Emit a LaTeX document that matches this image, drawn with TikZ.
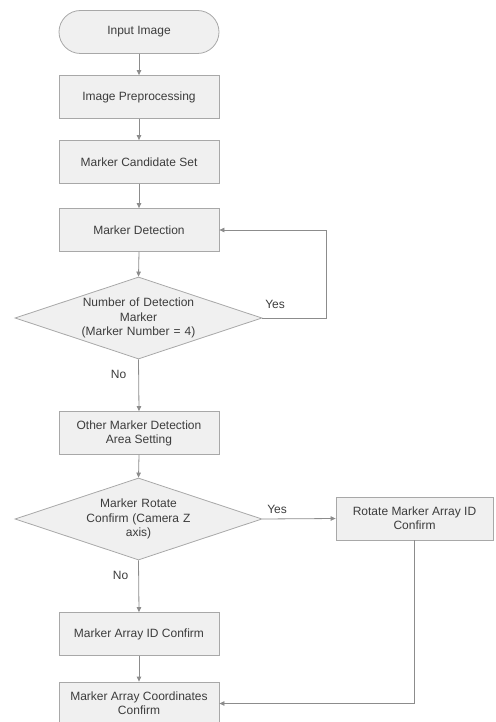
\documentclass[tikz,border=0pt]{standalone}
\usepackage{fontspec}
\setmainfont{Liberation Sans}
\usepackage{tikz}
\usetikzlibrary{arrows.meta}
\usetikzlibrary{shapes.geometric}
\definecolor{boxfill}{HTML}{F0F0F0}
\definecolor{boxline}{HTML}{A8A8A8}
\definecolor{flowline}{HTML}{8C8C8C}
\definecolor{boxtext}{HTML}{3C3C3C}
\tikzset{process/.style={rectangle,draw=boxline,fill=boxfill,line width=0.8pt,minimum width=160pt,minimum height=43pt,inner sep=2pt,align=center,text=boxtext,font=\fontsize{12}{14}\selectfont}}
\tikzset{terminal/.style={process,rounded corners=21.5pt}}
\tikzset{decision/.style={diamond,aspect=3,draw=boxline,fill=boxfill,line width=0.8pt,minimum width=247pt,minimum height=82pt,inner sep=0pt,text width=120pt,align=center,text=boxtext,font=\fontsize{12}{14.5}\selectfont}}
\tikzset{flow/.style={draw=flowline,line width=0.8pt,-{Triangle[length=5pt,width=4.5pt]}}}
\tikzset{lbl/.style={inner sep=2pt,text=boxtext,font=\fontsize{12}{14}\selectfont}}

\begin{document}
\begin{tikzpicture}[x=1pt,y=-1pt]
\useasboundingbox (0,0) rectangle (495,722);

\node[terminal] (input) at (139,32) {Input Image};
\foreach \n / \y / \t in {prep/97/Image Preprocessing, cand/162/Marker Candidate Set, det/230/Marker Detection, area/433/Other Marker Detection\\Area Setting, arrid/634/Marker Array ID Confirm, coord/703.5/Marker Array Coordinates\\Confirm}
{
	\node[process] (\n) at (139,\y) {\t};
}
\node[decision] (num) at (138.5,318) {Number of Detection\\Marker\\(Marker Number = 4)};
\node[decision] (rotq) at (138.5,519) {Marker Rotate\\Confirm (Camera Z\\axis)};
\node[process,minimum width=157pt] (rot) at (414.5,518.5) {Rotate Marker Array ID\\Confirm};
\coordinate (back) at (326,230);

\foreach \a / \b in {input/prep,prep/cand,cand/det,det/num,area/rotq,arrid/coord}
{
	\draw[flow] (\a.south) -- (\b.north);
}

\draw[flow] (num.south) -- node[lbl,pos=0.3,left=10pt] (no1) {No} (area.north);
\draw[flow] (rotq.south) -- node[lbl,pos=0.3,left=8pt] (no2) {No} (arrid.north);
\draw[flow] (num.east) -| node[lbl,pos=0.1,above=7pt] (yes1) {Yes} (back) -- (det.east);
\draw[flow] (rotq.east) -- node[lbl,pos=0.2,above=3pt] (yes2) {Yes} (rot.west);
\draw[flow] (rot.south) |- (coord.east);

\end{tikzpicture}
\end{document}
